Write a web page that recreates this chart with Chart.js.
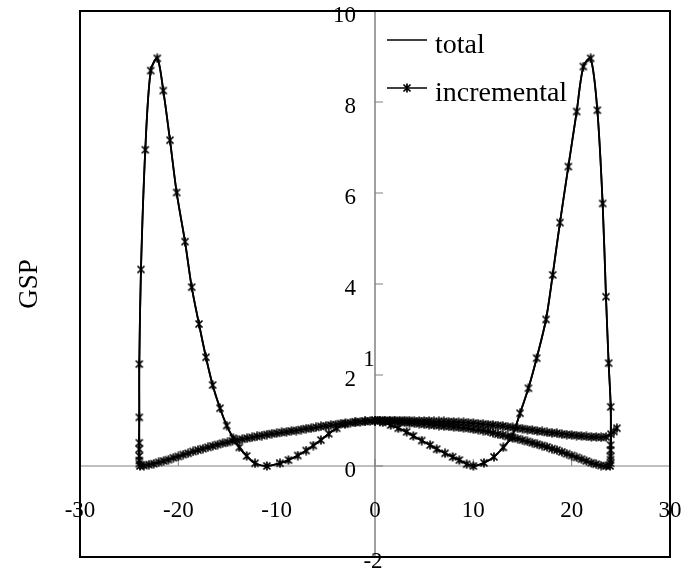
<!DOCTYPE html>
<html>
<head>
<meta charset="utf-8">
<script src="https://cdn.jsdelivr.net/npm/chart.js@4.4.0/dist/chart.umd.min.js"></script>
<style>
html,body{margin:0;padding:0;background:#fff;}
#wrap{width:694px;height:574px;position:relative;}
</style>
</head>
<body>
<div id="wrap"><canvas id="c"></canvas></div>
<script>
// ---------- data ----------
const xTickValues = [-30, -20, -10, 0, 10, 20, 30];
const xTickLabels = ['-30', '-20', '-10', '0', '10', '20', '30'];
const yTickValues = [10, 8, 6, 4, 2, 0, -2];
const yTickLabels = ['10', '8', '6', '4', '2', '0', '-2'];
const yTitle = 'GSP';
const strayLabel = '1';
const seriesNames = ['total', 'incremental'];

// incremental: first loading towards +x (lower band)
const loadPos = [[0,1.00],[0.5,1.00],[1,0.99],[1.5,0.99],[2,0.98],[2.5,0.97],[3,0.96],[3.5,0.95],[4,0.94],[4.5,0.93],
  [5,0.92],[5.5,0.91],[6,0.90],[6.5,0.89],[7,0.88],[7.5,0.87],[8,0.86],[8.5,0.85],[9,0.84],[9.5,0.83],
  [10,0.81],[10.5,0.80],[11,0.78],[11.5,0.76],[12,0.73],[12.5,0.70],[13,0.68],[13.5,0.65],[14,0.62],[14.5,0.60],
  [15,0.57],[15.5,0.54],[16,0.51],[16.5,0.48],[17,0.45],[17.5,0.42],[18,0.38],[18.5,0.35],[19,0.31],[19.5,0.27],
  [20,0.23],[20.5,0.19],[21,0.15],[21.5,0.11],[22,0.07],[22.5,0.04],[23,0.01],[23.5,0.00],[23.9,0.00]];
// unloading from +x (right peak)
const unloadPos = [[23.95,0.06],[23.95,0.14],[23.95,0.21],[23.95,0.35],[23.96,0.46],[23.97,1.30],[23.76,2.26],
  [23.49,3.72],[23.15,5.77],[22.61,7.82],[21.93,8.96],[21.19,8.78],[20.51,7.79],[19.66,6.58],[18.81,5.35],
  [18.07,4.20],[17.39,3.22],[16.44,2.37],[15.60,1.71],[14.75,1.16],[13.90,0.64],[13.05,0.41],[12.10,0.20],
  [11.08,0.07],[10.00,0.00],[9.32,0.04],[8.58,0.13],[7.90,0.20],[7.12,0.28],[6.27,0.37],[5.60,0.46],
  [4.75,0.56],[3.90,0.66],[3.22,0.75],[2.37,0.83],[1.60,0.90],[0.80,0.96],[0,1.00]];
// loading towards -x (left band)
const loadNeg = [[-0.5,0.99],[-1,0.98],[-1.5,0.97],[-2,0.96],[-2.5,0.95],[-3,0.94],[-3.5,0.93],[-4,0.91],[-4.5,0.90],
  [-5,0.88],[-5.5,0.87],[-6,0.85],[-6.5,0.83],[-7,0.82],[-7.5,0.80],[-8,0.78],[-8.5,0.77],[-9,0.75],[-9.5,0.74],
  [-10,0.72],[-10.5,0.71],[-11,0.69],[-11.5,0.67],[-12,0.65],[-12.5,0.63],[-13,0.61],[-13.5,0.59],[-14,0.57],[-14.5,0.55],
  [-15,0.52],[-15.5,0.50],[-16,0.47],[-16.5,0.44],[-17,0.41],[-17.5,0.38],[-18,0.35],[-18.5,0.32],[-19,0.28],[-19.5,0.25],
  [-20,0.21],[-20.5,0.18],[-21,0.14],[-21.5,0.11],[-22,0.08],[-22.5,0.05],[-23,0.03],[-23.5,0.01],[-23.9,0.00]];
// unloading from -x (left peak)
const unloadNeg = [[-23.97,0.05],[-23.97,0.12],[-23.97,0.22],[-23.97,0.37],[-23.97,0.51],[-23.97,1.07],[-23.97,2.24],
  [-23.80,4.32],[-23.36,6.95],[-22.81,8.69],[-22.14,8.96],[-21.53,8.25],[-20.85,7.16],[-20.17,6.01],[-19.32,4.93],
  [-18.64,3.93],[-17.90,3.12],[-17.19,2.39],[-16.51,1.78],[-15.76,1.27],[-15.08,0.89],[-14.41,0.61],[-13.80,0.41],
  [-13.05,0.22],[-12.20,0.06],[-11.00,0.00],[-9.66,0.06],[-8.80,0.13],[-7.86,0.23],[-7.00,0.34],[-6.27,0.45],
  [-5.50,0.57],[-4.70,0.71],[-3.90,0.83],[-3.05,0.92],[-2.00,0.97],[-1.00,0.99],[0,1.00]];
// reloading towards +x (upper band)
const reloadPos = [[0.5,1.00],[1,1.00],[1.5,1.00],[2,1.00],[2.5,1.00],[3,1.00],[3.5,1.00],[4,0.99],[4.5,0.99],
  [5,0.99],[5.5,0.99],[6,0.98],[6.5,0.98],[7,0.98],[7.5,0.97],[8,0.97],[8.5,0.96],[9,0.96],[9.5,0.95],
  [10,0.94],[10.5,0.93],[11,0.92],[11.5,0.91],[12,0.90],[12.5,0.89],[13,0.88],[13.5,0.86],[14,0.85],[14.5,0.83],
  [15,0.82],[15.5,0.80],[16,0.79],[16.5,0.77],[17,0.76],[17.5,0.74],[18,0.73],[18.5,0.72],[19,0.70],[19.5,0.69],
  [20,0.68],[20.5,0.67],[21,0.66],[21.5,0.65],[22,0.64],[22.5,0.64],[23,0.63],[23.5,0.64],[24,0.70],[24.3,0.76],[24.6,0.83]];

// total: same loop, plain line
const totalPath = [[0,1.00],[4,0.94],[8,0.86],[12,0.73],[16,0.51],[20,0.23],[22,0.07],[23.5,0.00],[23.95,0.05],
  [23.97,1.30],[23.76,2.26],[23.49,3.72],[23.15,5.77],[22.61,7.82],[21.93,8.96],[21.19,8.78],[20.51,7.79],
  [19.66,6.58],[18.81,5.35],[18.07,4.20],[17.39,3.22],[16.44,2.37],[15.60,1.71],[14.75,1.16],[13.90,0.64],
  [13.05,0.41],[12.10,0.20],[11.08,0.07],[10.00,0.00],[8.58,0.13],[7.12,0.28],[5.60,0.46],[3.90,0.66],
  [2.37,0.83],[1.00,0.95],[0,1.00],[-4,0.91],[-8,0.78],[-12,0.65],[-16,0.47],[-20,0.21],[-22,0.08],
  [-23.5,0.01],[-23.97,0.05],[-23.97,1.07],[-23.97,2.24],[-23.80,4.32],[-23.36,6.95],[-22.81,8.69],[-22.14,8.96],
  [-21.53,8.25],[-20.85,7.16],[-20.17,6.01],[-19.32,4.93],[-18.64,3.93],[-17.90,3.12],[-17.19,2.39],[-16.51,1.78],
  [-15.76,1.27],[-15.08,0.89],[-14.41,0.61],[-13.80,0.41],[-13.05,0.22],[-12.20,0.06],[-11.00,0.00],[-8.80,0.13],
  [-7.00,0.34],[-5.50,0.57],[-3.90,0.83],[-2.00,0.97],[0,1.00],[4,0.99],[8,0.97],[12,0.90],[16,0.79],[20,0.68],
  [23,0.63],[24,0.70],[24.6,0.83]];

// ---------- build ----------
const toPts = arr => arr.map(p => ({x: p[0], y: p[1]}));
const incrementalPts = toPts([].concat(loadPos, unloadPos, loadNeg, unloadNeg, reloadPos));
const totalPts = toPts(totalPath);

const FONT = "'Liberation Serif', 'Times New Roman', serif";

// asterisk marker (x with vertical bar)
function makeMarker() {
  const s = 10, c = document.createElement('canvas');
  c.width = s; c.height = s;
  const g = c.getContext('2d');
  g.strokeStyle = '#000'; g.lineWidth = 1.7; g.lineCap = 'butt';
  g.beginPath();
  g.moveTo(1.5, 1.5); g.lineTo(s - 1.5, s - 1.5);
  g.moveTo(s - 1.5, 1.5); g.lineTo(1.5, s - 1.5);
  g.moveTo(s / 2, 0.5); g.lineTo(s / 2, s - 0.5);
  g.stroke();
  return c;
}
const marker = makeMarker();

const axesPlugin = {
  id: 'axesPlugin',
  beforeDatasetsDraw(chart) {
    const {ctx, chartArea: a, scales: {x, y}} = chart;
    const x0 = x.getPixelForValue(0), y0 = y.getPixelForValue(0);
    ctx.save();
    ctx.strokeStyle = '#808080';
    ctx.lineWidth = 1.5;
    ctx.beginPath(); ctx.moveTo(x0, a.top); ctx.lineTo(x0, a.bottom); ctx.stroke();
    ctx.lineWidth = 1;
    ctx.beginPath(); ctx.moveTo(a.left, y0); ctx.lineTo(a.right, y0); ctx.stroke();
    ctx.beginPath();
    xTickValues.forEach(v => { const px = x.getPixelForValue(v); ctx.moveTo(px, y0); ctx.lineTo(px, y0 - 7); });
    yTickValues.forEach(v => { const py = y.getPixelForValue(v); ctx.moveTo(x0, py); ctx.lineTo(x0 + 8, py); });
    ctx.stroke();
    ctx.restore();
  },
  afterDraw(chart) {
    const {ctx, chartArea: a, scales: {x, y}} = chart;
    const x0 = x.getPixelForValue(0), y0 = y.getPixelForValue(0);
    ctx.save();
    // frame
    ctx.strokeStyle = '#000'; ctx.lineWidth = 2;
    ctx.strokeRect(a.left, a.top, a.right - a.left, a.bottom - a.top);
    // tick labels
    ctx.fillStyle = '#000';
    ctx.font = '23px ' + FONT;
    ctx.textBaseline = 'middle';
    ctx.textAlign = 'center';
    xTickValues.forEach((v, i) => ctx.fillText(xTickLabels[i], x.getPixelForValue(v), y0 + 45));
    yTickValues.forEach((v, i) => {
      const py = y.getPixelForValue(v);
      if (v === -2) { ctx.textAlign = 'center'; ctx.fillText(yTickLabels[i], x0 - 2, py + 5); }
      else { ctx.textAlign = 'right'; ctx.fillText(yTickLabels[i], x0 - 19, py + 5); }
    });
    ctx.textAlign = 'center';
    ctx.fillText(strayLabel, x0 - 6, y.getPixelForValue(2) - 15);
    // axis title
    ctx.font = '27px ' + FONT;
    ctx.save();
    ctx.translate(30, (a.top + a.bottom) / 2);
    ctx.rotate(-Math.PI / 2);
    ctx.textAlign = 'center'; ctx.textBaseline = 'middle';
    ctx.fillText(yTitle, 0, 0);
    ctx.restore();
    // legend
    const lx = x0 + 12, ly = [40, 88];
    ctx.font = '28px ' + FONT;
    ctx.textAlign = 'left'; ctx.textBaseline = 'alphabetic';
    ctx.strokeStyle = '#000'; ctx.lineWidth = 1.6;
    ly.forEach((yy, i) => {
      ctx.beginPath(); ctx.moveTo(lx, yy); ctx.lineTo(lx + 40, yy); ctx.stroke();
      ctx.fillText(seriesNames[i], lx + 48, yy + 13);
    });
    ctx.drawImage(marker, lx + 20 - marker.width / 2, ly[1] - marker.height / 2);
    ctx.restore();
  }
};

new Chart(document.getElementById('c'), {
  type: 'scatter',
  data: {
    datasets: [
      {
        label: seriesNames[0],
        data: totalPts,
        showLine: true,
        borderColor: '#000',
        borderWidth: 1.8,
        pointRadius: 0,
        tension: 0.3,
        order: 2
      },
      {
        label: seriesNames[1],
        data: incrementalPts,
        showLine: true,
        borderColor: '#000',
        borderWidth: 1.8,
        pointStyle: marker,
        pointRadius: 5,
        tension: 0.3,
        order: 1
      }
    ]
  },
  options: {
    responsive: true,
    maintainAspectRatio: false,
    animation: false,
    layout: {padding: {left: 80, right: 24, top: 11, bottom: 17}},
    scales: {
      x: {type: 'linear', min: -30, max: 30, display: false},
      y: {type: 'linear', min: -2, max: 10, display: false}
    },
    plugins: {legend: {display: false}, tooltip: {enabled: false}}
  },
  plugins: [axesPlugin]
});
</script>
</body>
</html>
